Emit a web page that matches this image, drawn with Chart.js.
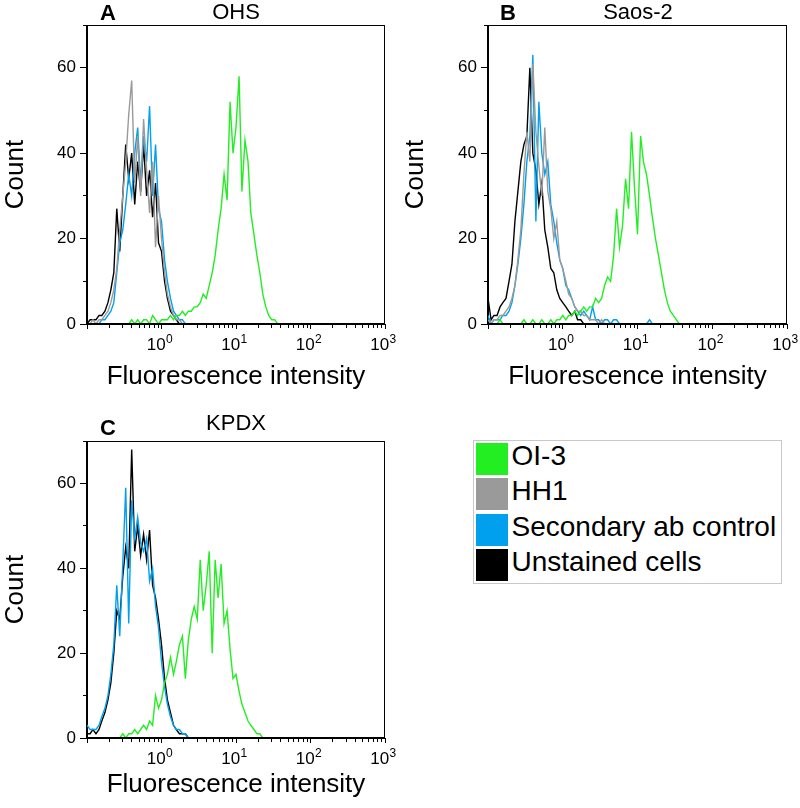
<!DOCTYPE html>
<html lang="en">
  <head>
    <meta charset="UTF-8" />
    <title>Flow cytometry histograms</title>
    <script src="https://cdn.jsdelivr.net/npm/chart.js@4.4.0/dist/chart.umd.min.js"></script>
    <style>
      body { margin: 0; background: #fff; font-family: 'Liberation Sans', Arial, sans-serif; color: #000; }
      #page { position: relative; width: 800px; height: 808px; overflow: hidden; }
      canvas { position: absolute; }
      .letter { position: absolute; font-size: 22px; font-weight: bold; line-height: 1; }
      .title { position: absolute; font-size: 22px; line-height: 1; transform: translateX(-50%); white-space: nowrap; }
      #legend { position: absolute; left: 473px; top: 440px; width: 309px; box-sizing: border-box; border: 1px solid #c8c8c8; padding: 0 0 0 2px; }
      .item { display: flex; align-items: center; height: 35.5px; font-size: 28px; white-space: nowrap; }
      .swatch { width: 32px; height: 32px; margin-right: 3.5px; flex: none; }
      .item span { position: relative; top: -3px; }
    </style>
  </head>

  <body>
    <div id="page">
      <canvas id="chartOHS" width="400" height="400" style="left:0;top:0"></canvas>
      <canvas id="chartSaos" width="400" height="400" style="left:400px;top:0"></canvas>
      <canvas id="chartKPDX" width="400" height="392" style="left:0;top:416px"></canvas>

      <div class="letter" style="left:100px;top:2px">A</div>
      <div class="title" style="left:236px;top:1px">OHS</div>
      <div class="letter" style="left:500px;top:2px">B</div>
      <div class="title" style="left:638px;top:1px">Saos-2</div>
      <div class="letter" style="left:100px;top:417px">C</div>
      <div class="title" style="left:236px;top:412px">KPDX</div>

      <div id="legend"></div>
    </div>

    <script>
      // channel positions (fluorescence intensity), shared by every histogram
      const channels = [
        0.1, 0.11, 0.12, 0.132, 0.145, 0.158, 0.174, 0.191, 0.209, 0.229,
        0.251, 0.275, 0.302, 0.331, 0.363, 0.398, 0.437, 0.479, 0.525, 0.575,
        0.631, 0.692, 0.759, 0.832, 0.912, 1, 1.1, 1.2, 1.32, 1.45,
        1.58, 1.74, 1.91, 2.09, 2.29, 2.51, 2.75, 3.02, 3.31, 3.63,
        3.98, 4.37, 4.79, 5.25, 5.75, 6.31, 6.92, 7.59, 8.32, 9.12,
        10, 11, 12, 13.2, 14.5, 15.8, 17.4, 19.1, 20.9, 22.9,
        25.1, 27.5, 30.2, 33.1, 36.3, 39.8, 43.7, 47.9, 52.5, 57.5,
        63.1, 1000
      ];

      const seriesNames = ['OI-3', 'HH1', 'Secondary ab control', 'Unstained cells'];
      const seriesColors = ['#22ee22', '#9a9a9a', '#00a0ee', '#000000'];

      const xTicks = [
        0.1, 0.2, 0.3, 0.4, 0.5, 0.6, 0.7, 0.8, 0.9,
        1, 2, 3, 4, 5, 6, 7, 8, 9,
        10, 20, 30, 40, 50, 60, 70, 80, 90,
        100, 200, 300, 400, 500, 600, 700, 800, 900, 1000
      ];
      const xMajorTicks = [0.1, 1, 10, 100, 1000];
      const xLabelValues = [1, 10, 100, 1000];
      const xLabelExponents = ['0', '1', '2', '3'];
      const yTicks = [0, 10, 20, 30, 40, 50, 60, 70];

      // A - OHS
      const ohsOI3 = [
        0, 0, 0, 0, 0, 0, 0, 0, 0, 0,
        0, 0, 0, 0, 0, 1, 0, 1, 0, 1,
        1, 0, 2, 1, 0, 1, 1, 1, 2, 1,
        2, 2, 3, 2, 3, 3, 4, 4, 5, 7,
        6, 9, 12, 16, 22, 27, 35, 29, 52, 40,
        46, 58, 31, 43, 38, 26, 21, 16, 12, 7,
        4, 2, 1, 1, 0, 0, 0, 0, 0, 0,
        0, 0
      ];
      const ohsHH1 = [
        0, 0, 1, 0, 1, 1, 2, 3, 5, 8,
        13, 22, 30, 38, 49, 57, 33, 44, 30, 48,
        36, 26, 38, 18, 30, 20, 12, 7, 4, 2,
        1, 1, 0, 0, 0, 0, 0, 0, 0, 0,
        0, 0, 0, 0, 0, 0, 0, 0, 0, 0,
        0, 0, 0, 0, 0, 0, 0, 0, 0, 0,
        0, 0, 0, 0, 0, 0, 0, 0, 0, 0,
        0, 0
      ];
      const ohsSecondary = [
        0, 0, 0, 0, 0, 1, 1, 2, 3, 5,
        12, 19, 22, 28, 35, 30, 40, 46, 33, 44,
        38, 51, 30, 42, 27, 24, 15, 10, 6, 3,
        2, 1, 1, 0, 0, 0, 0, 0, 0, 0,
        0, 0, 0, 0, 0, 0, 0, 0, 0, 0,
        0, 0, 0, 0, 0, 0, 0, 0, 0, 0,
        0, 0, 0, 0, 0, 0, 0, 0, 0, 0,
        0, 0
      ];
      const ohsUnstained = [
        0, 1, 1, 1, 2, 2, 3, 5, 8, 12,
        27, 17, 30, 42, 34, 40, 28, 38, 31, 42,
        30, 36, 25, 33, 19, 17, 10, 6, 3, 2,
        1, 0, 0, 0, 0, 0, 0, 0, 0, 0,
        0, 0, 0, 0, 0, 0, 0, 0, 0, 0,
        0, 0, 0, 0, 0, 0, 0, 0, 0, 0,
        0, 0, 0, 0, 0, 0, 0, 0, 0, 0,
        0, 0
      ];

      // B - Saos-2
      const saosOI3 = [
        0, 0, 0, 0, 1, 0, 0, 0, 0, 0,
        0, 0, 1, 0, 0, 1, 0, 0, 1, 0,
        0, 1, 0, 1, 1, 2, 1, 2, 2, 3,
        2, 3, 4, 3, 4, 4, 6, 5, 6, 9,
        11, 10, 16, 27, 18, 23, 34, 27, 45, 32,
        21, 44, 38, 35, 30, 25, 20, 16, 12, 8,
        5, 3, 2, 1, 0, 0, 0, 0, 0, 0,
        0, 0
      ];
      const saosHH1 = [
        1, 0, 1, 1, 2, 2, 3, 4, 6, 9,
        15, 22, 35, 45, 38, 61, 45, 37, 30, 46,
        31, 27, 20, 24, 15, 13, 10, 7, 6, 4,
        3, 3, 2, 2, 1, 1, 1, 0, 1, 0,
        0, 0, 0, 0, 0, 0, 0, 0, 0, 0,
        0, 0, 0, 0, 0, 0, 0, 0, 0, 0,
        0, 0, 0, 0, 0, 0, 0, 0, 0, 0,
        0, 0
      ];
      const saosSecondary = [
        2, 0, 1, 1, 1, 2, 2, 3, 5, 9,
        14, 20, 28, 38, 44, 63, 24, 52, 40, 35,
        38, 28, 24, 19, 15, 13, 9, 8, 6, 4,
        3, 2, 3, 2, 1, 4, 1, 1, 0, 1,
        1, 0, 1, 1, 0, 0, 0, 0, 0, 0,
        0, 0, 0, 0, 1, 0, 0, 0, 0, 0,
        0, 0, 0, 0, 0, 0, 0, 0, 0, 0,
        0, 0
      ];
      const saosUnstained = [
        6, 1, 2, 2, 4, 5, 6, 10, 14, 24,
        31, 38, 42, 44, 60, 40, 36, 28, 33, 22,
        18, 13, 12, 8, 6, 5, 4, 3, 2, 3,
        1, 1, 0, 0, 0, 0, 0, 0, 0, 0,
        0, 0, 0, 0, 0, 0, 0, 0, 0, 0,
        0, 0, 0, 0, 0, 0, 0, 0, 0, 0,
        0, 0, 0, 0, 0, 0, 0, 0, 0, 0,
        0, 0
      ];

      // C - KPDX
      const kpdxOI3 = [
        0, 0, 0, 0, 0, 0, 0, 0, 0, 0,
        0, 0, 1, 0, 1, 1, 2, 1, 2, 3,
        2, 4, 3, 10, 7, 9, 13, 15, 19, 15,
        18, 22, 24, 14, 23, 28, 31, 28, 42, 30,
        36, 44, 20, 42, 33, 41, 27, 30, 21, 14,
        15, 11, 8, 6, 4, 3, 2, 1, 1, 0,
        0, 0, 0, 0, 0, 0, 0, 0, 0, 0,
        0, 0
      ];
      const kpdxSecondary = [
        3, 2, 2, 2, 3, 5, 7, 10, 15, 22,
        36, 24, 41, 59, 27, 56, 47, 52, 46, 44,
        47, 37, 40, 31, 26, 18, 12, 8, 5, 3,
        2, 2, 1, 1, 0, 0, 0, 0, 0, 0,
        0, 0, 0, 0, 0, 0, 0, 0, 0, 0,
        0, 0, 0, 0, 0, 0, 0, 0, 0, 0,
        0, 0, 0, 0, 0, 0, 0, 0, 0, 0,
        0, 0
      ];
      const kpdxUnstained = [
        1, 1, 2, 1, 2, 4, 6, 9, 13, 20,
        30, 28, 38, 45, 40, 68, 44, 50, 43, 48,
        42, 49, 36, 33, 28, 22, 14, 9, 6, 3,
        2, 1, 1, 1, 0, 0, 0, 0, 0, 0,
        0, 0, 0, 0, 0, 0, 0, 0, 0, 0,
        0, 0, 0, 0, 0, 0, 0, 0, 0, 0,
        0, 0, 0, 0, 0, 0, 0, 0, 0, 0,
        0, 0
      ];

      const fontFamily = "'Liberation Sans', Arial, sans-serif";
      Chart.defaults.font.family = fontFamily;
      Chart.defaults.color = '#000';

      // box round the plot area (top and right sides)
      const framePlugin = {
        id: 'frame',
        afterDatasetsDraw(chart) {
          const { ctx, chartArea: a } = chart;
          ctx.save();
          ctx.strokeStyle = '#000';
          ctx.lineWidth = 1;
          ctx.strokeRect(Math.round(a.left) - 0.5, Math.round(a.top) + 0.5,
            Math.round(a.right - a.left), Math.round(a.bottom - a.top) - 1);
          ctx.restore();
        }
      };

      // "10" with a raised exponent under each decade tick
      const decadeLabels = {
        id: 'decadeLabels',
        afterDraw(chart) {
          const { ctx, chartArea: a } = chart;
          const s = chart.scales.x;
          const base = a.bottom + 26;
          ctx.save();
          ctx.fillStyle = '#000';
          ctx.textBaseline = 'alphabetic';
          ctx.textAlign = 'left';
          xLabelValues.forEach((v, i) => {
            const px = s.getPixelForValue(v);
            ctx.font = '17px ' + fontFamily;
            const wb = ctx.measureText('10').width;
            ctx.font = '12px ' + fontFamily;
            const we = ctx.measureText(xLabelExponents[i]).width;
            const x0 = px - (wb + we) / 2 - 2;
            ctx.font = '17px ' + fontFamily;
            ctx.fillText('10', x0, base);
            ctx.font = '12px ' + fontFamily;
            ctx.fillText(xLabelExponents[i], x0 + wb + 0.5, base - 7);
          });
          ctx.restore();
        }
      };

      function drawPanel(id, series, box) {
        const datasets = series.map(s => ({
          label: seriesNames[s.idx],
          data: s.values.map((y, i) => ({ x: channels[i], y: y })),
          borderColor: seriesColors[s.idx],
          borderWidth: 1.4,
          pointRadius: 0,
          tension: 0,
          fill: false
        }));

        return new Chart(id, {
          type: 'line',
          data: { datasets: datasets },
          options: {
            responsive: false,
            animation: false,
            events: [],
            layout: { padding: { left: 0, top: 25, right: box.right, bottom: 0 } },
            plugins: { legend: { display: false }, tooltip: { enabled: false } },
            scales: {
              x: {
                type: 'logarithmic',
                min: 0.1,
                max: 1000,
                afterBuildTicks: s => { s.ticks = xTicks.map(v => ({ value: v })); },
                afterFit: s => { s.height = box.xHeight; },
                border: { color: '#000', width: 1 },
                grid: {
                  drawOnChartArea: false,
                  tickLength: 5,
                  tickColor: '#000',
                  tickBorderDash: c => (c.tick && xMajorTicks.indexOf(c.tick.value) >= 0) ? [] : [3, 20]
                },
                ticks: {
                  autoSkip: false,
                  maxRotation: 0,
                  padding: 2,
                  font: { size: 16 },
                  callback: () => ''
                },
                title: {
                  display: true,
                  text: 'Fluorescence intensity',
                  font: { size: 26 },
                  padding: { top: 0, bottom: 8 }
                }
              },
              y: {
                min: 0,
                max: 70,
                afterBuildTicks: s => { s.ticks = yTicks.map(v => ({ value: v })); },
                afterFit: s => { s.width = box.yWidth; },
                border: { color: '#000', width: 1 },
                grid: {
                  drawOnChartArea: false,
                  tickLength: 7,
                  tickColor: '#000',
                  tickBorderDash: c => (c.tick && c.tick.value % 20 === 0) ? [] : [0, 3, 20]
                },
                ticks: {
                  padding: 4,
                  font: { size: 17 },
                  callback: v => (v % 20 === 0 && v < 70) ? String(v) : ''
                },
                title: {
                  display: true,
                  text: 'Count',
                  font: { size: 26 },
                  padding: { top: 0, bottom: 0 }
                }
              }
            }
          },
          plugins: [framePlugin, decadeLabels]
        });
      }

      drawPanel('chartOHS', [
        { idx: 0, values: ohsOI3 },
        { idx: 1, values: ohsHH1 },
        { idx: 2, values: ohsSecondary },
        { idx: 3, values: ohsUnstained }
      ], { right: 15, yWidth: 87, xHeight: 76 });

      drawPanel('chartSaos', [
        { idx: 0, values: saosOI3 },
        { idx: 1, values: saosHH1 },
        { idx: 2, values: saosSecondary },
        { idx: 3, values: saosUnstained }
      ], { right: 13, yWidth: 88, xHeight: 76 });

      drawPanel('chartKPDX', [
        { idx: 0, values: kpdxOI3 },
        { idx: 2, values: kpdxSecondary },
        { idx: 3, values: kpdxUnstained }
      ], { right: 15, yWidth: 87, xHeight: 70 });

      // legend box, built from the series names and colours
      const legend = document.getElementById('legend');
      seriesNames.forEach((name, i) => {
        const item = document.createElement('div');
        item.className = 'item';
        const sw = document.createElement('div');
        sw.className = 'swatch';
        sw.style.background = seriesColors[i];
        const txt = document.createElement('span');
        txt.textContent = name;
        item.appendChild(sw);
        item.appendChild(txt);
        legend.appendChild(item);
      });
    </script>
  </body>
</html>
